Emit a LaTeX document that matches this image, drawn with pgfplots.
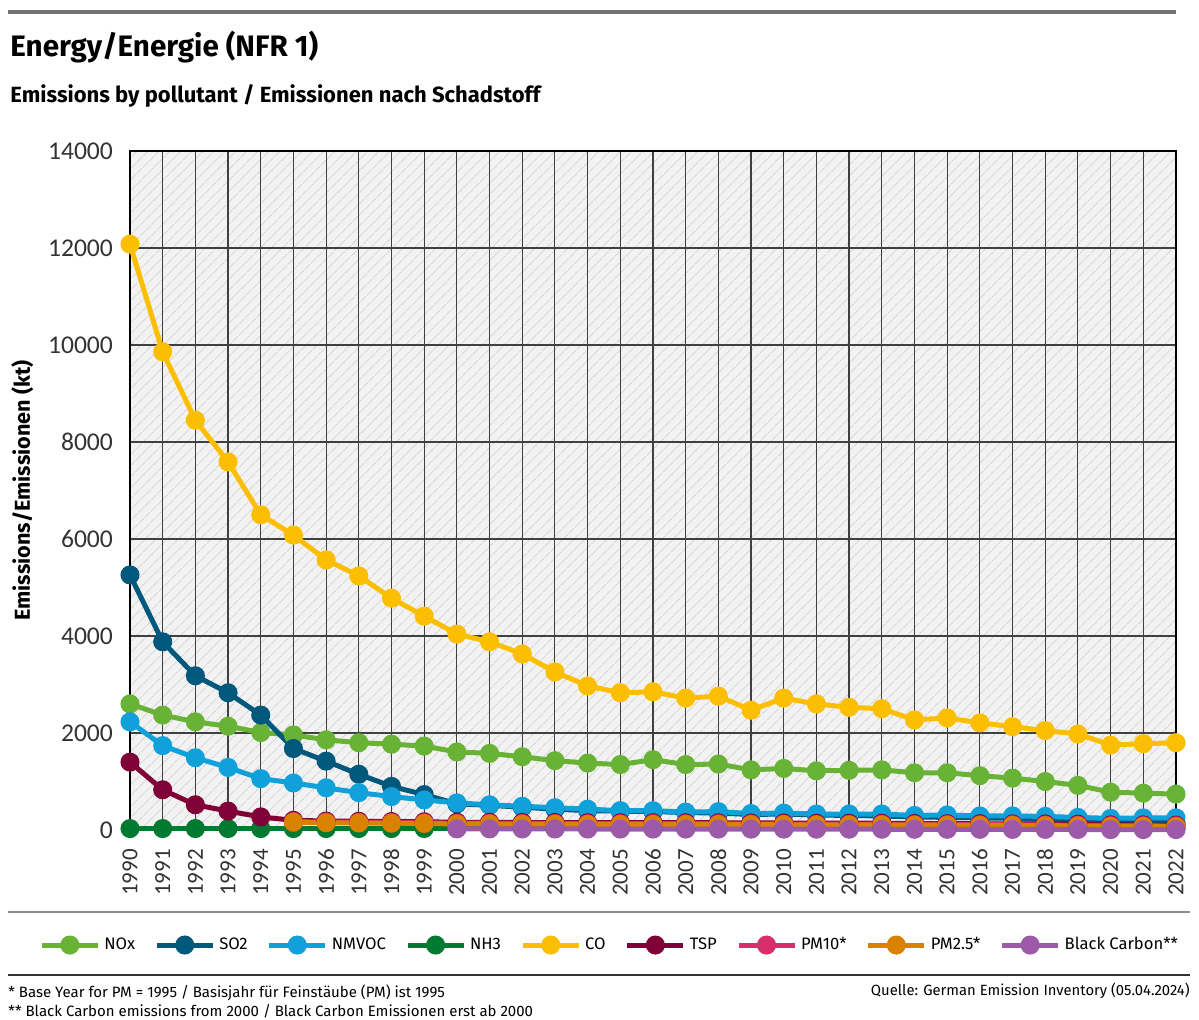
\documentclass[border=0pt]{standalone}
\usepackage{pgfplots}
\pgfplotsset{compat=1.18}
\usepackage{fontspec}
\setmainfont{Fira Sans}
\newfontfamily\tickfont{Carlito}
\usetikzlibrary{patterns.meta}
\definecolor{cNOx}{RGB}{104,178,54}
\definecolor{cSO2}{RGB}{0,88,124}
\definecolor{cNMVOC}{RGB}{16,160,218}
\definecolor{cNH3}{RGB}{0,122,48}
\definecolor{cCO}{RGB}{252,190,0}
\definecolor{cTSP}{RGB}{128,0,56}
\definecolor{cPM10}{RGB}{216,46,108}
\definecolor{cPMtwo}{RGB}{216,130,0}
\definecolor{cBC}{RGB}{156,90,168}
\begin{document}
\begin{tikzpicture}
\useasboundingbox (0,0) rectangle (599.5pt,-509.5pt);
\draw[black!55, line width=1.6pt] (4pt,-6pt) -- (588pt,-6pt);
\node[anchor=base west, inner sep=0pt, font=\bfseries\fontsize{14.8}{17}\selectfont] at (5pt,-28pt) {Energy/Energie (NFR 1)};
\node[anchor=base west, inner sep=0pt, font=\bfseries\fontsize{11}{13}\selectfont] at (5pt,-51pt) {Emissions by pollutant / Emissionen nach Schadstoff};
\begin{axis}[
  at={(65pt,-415pt)}, anchor=south west,
  scale only axis, width=523pt, height=339.5pt,
  xmin=1990, xmax=2022, ymin=0, ymax=14000,
  xtick={1990,...,2022}, ytick={0,2000,...,14000},
  scaled y ticks=false,
  clip=false,
  grid=major,
  major grid style={black!75, line width=0.6pt},
  major tick length=0pt,
  axis line style={black, line width=0.9pt},
  axis background/.style={fill=gray!10, postaction={pattern={Lines[angle=45,distance=4pt,line width=0.45pt]}, pattern color=gray!32}},
  /pgf/number format/assume math mode=true,
  /pgf/number format/1000 sep={},
  xticklabel style={font=\tickfont\fontsize{11.5}{13}\selectfont, text=black!80, rotate=90, anchor=east},
  yticklabel style={font=\tickfont\fontsize{12.8}{14}\selectfont, text=black!80},
  xticklabel shift=6pt,
  yticklabel shift=5pt,
  ylabel={Emissions/Emissionen (kt)},
  ylabel style={font=\bfseries\fontsize{10.8}{12}\selectfont, at={(axis description cs:-0.103,0.5)}, anchor=center},
  every axis plot/.append style={line width=2.5pt, mark=*, mark size=3.5pt, mark options={solid}},
  legend columns=9,
  legend style={at={(0.4595,-0.1694)}, anchor=center, draw=none, fill=none,
     font=\fontsize{8.3}{10}\selectfont, /tikz/every even column/.append style={column sep=7.6pt}},
  legend cell align=left,
  legend image code/.code={\draw[mark repeat=2, mark phase=2, #1] plot coordinates {(0pt,0pt) (14pt,0pt) (28pt,0pt)};},
]
\addplot[color=cNOx] coordinates {(1990,2600)(1991,2370)(1992,2230)(1993,2140)(1994,2010)(1995,1960)(1996,1860)(1997,1800)(1998,1770)(1999,1730)(2000,1610)(2001,1580)(2002,1510)(2003,1430)(2004,1380)(2005,1350)(2006,1450)(2007,1350)(2008,1360)(2009,1240)(2010,1270)(2011,1220)(2012,1230)(2013,1240)(2014,1180)(2015,1180)(2016,1120)(2017,1070)(2018,1000)(2019,920)(2020,780)(2021,760)(2022,740)};
\addlegendentry{NOx}
\addplot[color=cSO2] coordinates {(1990,5260)(1991,3880)(1992,3180)(1993,2830)(1994,2370)(1995,1680)(1996,1420)(1997,1150)(1998,900)(1999,730)(2000,540)(2001,510)(2002,470)(2003,430)(2004,400)(2005,390)(2006,380)(2007,360)(2008,350)(2009,320)(2010,330)(2011,310)(2012,300)(2013,290)(2014,270)(2015,260)(2016,250)(2017,240)(2018,220)(2019,180)(2020,150)(2021,160)(2022,150)};
\addlegendentry{SO2}
\addplot[color=cNMVOC] coordinates {(1990,2230)(1991,1740)(1992,1490)(1993,1290)(1994,1060)(1995,970)(1996,870)(1997,770)(1998,690)(1999,620)(2000,560)(2001,520)(2002,490)(2003,460)(2004,430)(2005,400)(2006,400)(2007,370)(2008,380)(2009,340)(2010,350)(2011,330)(2012,330)(2013,330)(2014,300)(2015,310)(2016,290)(2017,290)(2018,280)(2019,260)(2020,240)(2021,250)(2022,250)};
\addlegendentry{NMVOC}
\addplot[color=cNH3] coordinates {(1990,30)(1991,30)(1992,30)(1993,30)(1994,30)(1995,30)(1996,30)(1997,30)(1998,30)(1999,30)(2000,30)(2001,30)(2002,30)(2003,30)(2004,30)(2005,30)(2006,30)(2007,30)(2008,30)(2009,30)(2010,30)(2011,30)(2012,30)(2013,30)(2014,30)(2015,30)(2016,30)(2017,30)(2018,30)(2019,30)(2020,30)(2021,30)(2022,30)};
\addlegendentry{NH3}
\addplot[color=cCO] coordinates {(1990,12080)(1991,9860)(1992,8450)(1993,7590)(1994,6500)(1995,6080)(1996,5570)(1997,5240)(1998,4780)(1999,4410)(2000,4040)(2001,3880)(2002,3630)(2003,3260)(2004,2970)(2005,2830)(2006,2850)(2007,2720)(2008,2760)(2009,2470)(2010,2720)(2011,2600)(2012,2530)(2013,2500)(2014,2270)(2015,2310)(2016,2210)(2017,2130)(2018,2050)(2019,1980)(2020,1750)(2021,1780)(2022,1800)};
\addlegendentry{CO}
\addplot[color=cTSP] coordinates {(1990,1400)(1991,830)(1992,520)(1993,390)(1994,270)(1995,200)(1996,185)(1997,180)(1998,175)(1999,170)(2000,160)(2001,160)(2002,155)(2003,155)(2004,150)(2005,150)(2006,150)(2007,150)(2008,150)(2009,145)(2010,145)(2011,140)(2012,140)(2013,140)(2014,135)(2015,130)(2016,130)(2017,125)(2018,125)(2019,120)(2020,105)(2021,105)(2022,100)};
\addlegendentry{TSP}
\addplot[color=cPM10] coordinates {(1995,175)(1996,165)(1997,160)(1998,155)(1999,150)(2000,140)(2001,140)(2002,135)(2003,135)(2004,130)(2005,130)(2006,130)(2007,130)(2008,130)(2009,125)(2010,125)(2011,120)(2012,120)(2013,120)(2014,115)(2015,115)(2016,110)(2017,110)(2018,105)(2019,100)(2020,90)(2021,90)(2022,85)};
\addlegendentry{PM10*}
\addplot[color=cPMtwo] coordinates {(1995,160)(1996,150)(1997,145)(1998,140)(1999,135)(2000,125)(2001,125)(2002,120)(2003,120)(2004,115)(2005,115)(2006,115)(2007,115)(2008,115)(2009,110)(2010,110)(2011,105)(2012,105)(2013,105)(2014,100)(2015,100)(2016,95)(2017,95)(2018,90)(2019,85)(2020,75)(2021,75)(2022,70)};
\addlegendentry{PM2.5*}
\addplot[color=cBC] coordinates {(2000,25)(2001,24)(2002,23)(2003,22)(2004,21)(2005,20)(2006,20)(2007,19)(2008,19)(2009,18)(2010,18)(2011,17)(2012,17)(2013,16)(2014,15)(2015,15)(2016,14)(2017,13)(2018,12)(2019,11)(2020,9)(2021,9)(2022,8)};
\addlegendentry{Black Carbon**}
\end{axis}
\draw[black!45, line width=0.6pt] (4pt,-456pt) -- (595pt,-456pt);
\draw[black!80, line width=1.2pt] (4pt,-487.5pt) -- (595pt,-487.5pt);
\node[anchor=base west, inner sep=0pt, font=\fontsize{7.5}{9}\selectfont] at (4pt,-498.5pt) {* Base Year for PM = 1995 / Basisjahr für Feinstäube (PM) ist 1995};
\node[anchor=base west, inner sep=0pt, font=\fontsize{7.5}{9}\selectfont] at (4pt,-508pt) {** Black Carbon emissions from 2000 / Black Carbon Emissionen erst ab 2000};
\node[anchor=base east, inner sep=0pt, font=\fontsize{7.4}{9}\selectfont] at (595pt,-497.5pt) {Quelle: German Emission Inventory (05.04.2024)};
\end{tikzpicture}
\end{document}
